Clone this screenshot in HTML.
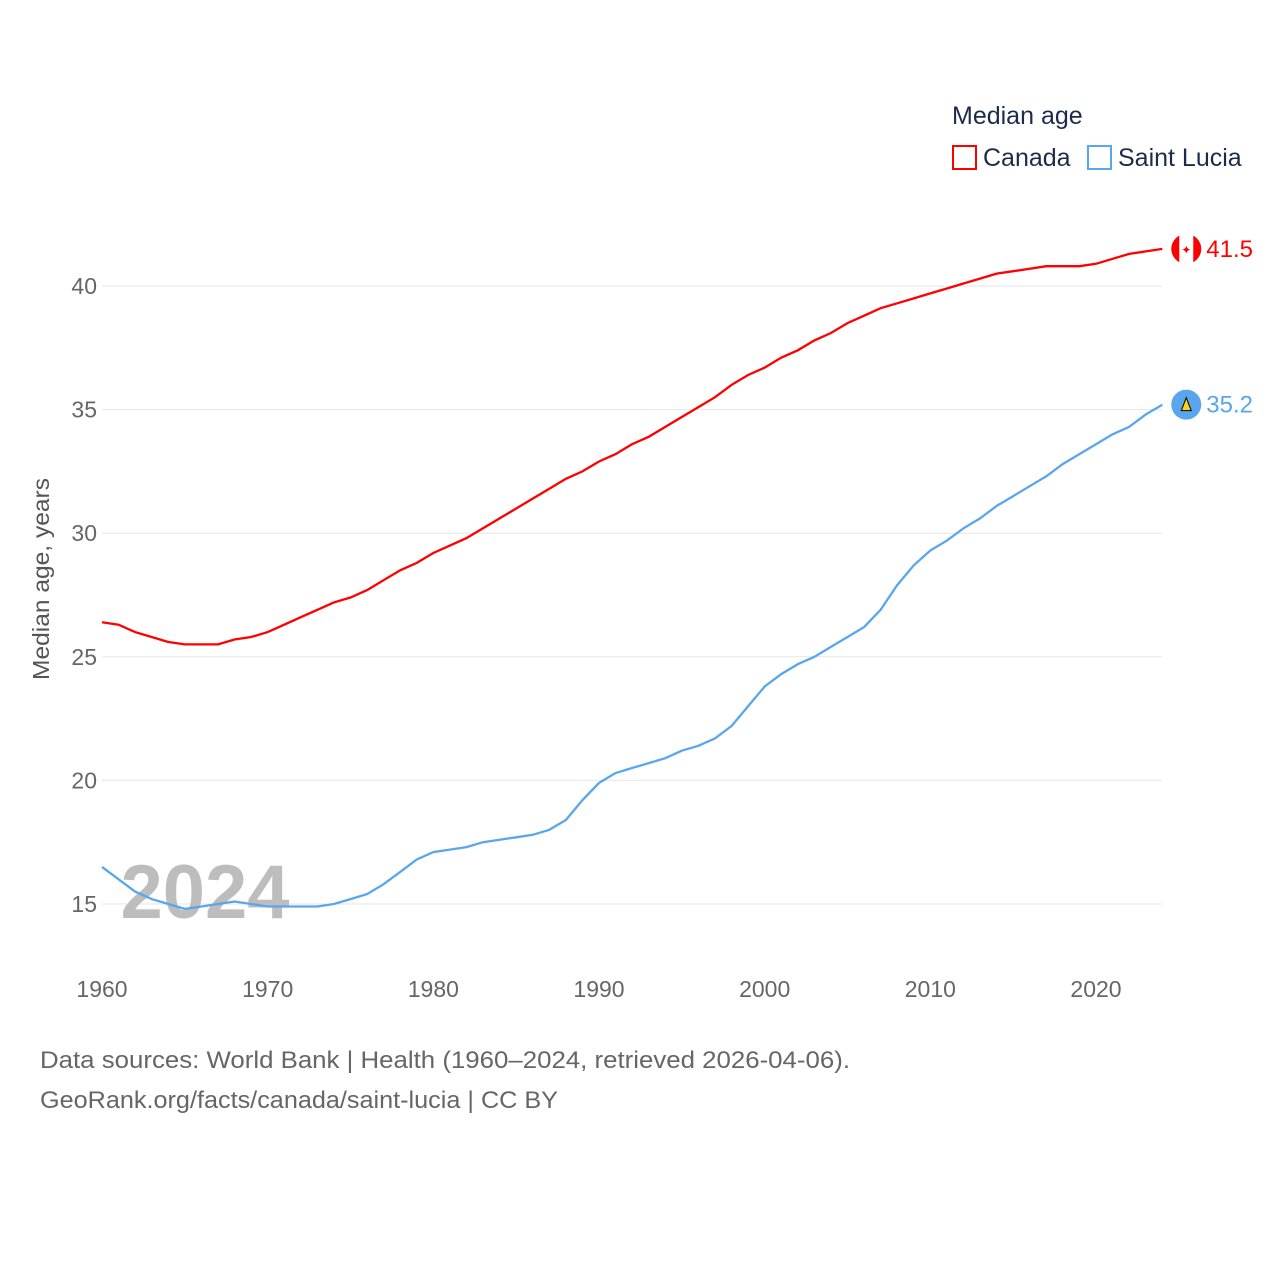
<!DOCTYPE html>
<html><head><meta charset="utf-8"><style>
body{margin:0;background:#fff;font-family:"Liberation Sans",sans-serif}
svg text{font-family:"Liberation Sans",sans-serif}
</style></head><body>
<svg id="chart" width="1280" height="1280" viewBox="0 0 1280 1280">
<text x="952" y="124" font-size="25" fill="#1d2b4a">Median age</text>
<g><rect x="953" y="146" width="23" height="23" fill="none" stroke="#f00" stroke-width="2"/><text x="983" y="166" font-size="25" fill="#1d2b4a">Canada</text></g>
<g><rect x="1088" y="146" width="23" height="23" fill="none" stroke="#5aa6ec" stroke-width="2"/><text x="1118" y="166" font-size="25" fill="#1d2b4a">Saint Lucia</text></g>
<g id="grid"></g><g id="yt"></g><g id="xt"></g>
<text x="205" y="918" font-size="76" font-weight="bold" fill="#bdbdbd" text-anchor="middle">2024</text>
<g id="lines"></g>
<text transform="translate(49,579) rotate(-90)" font-size="23" fill="#555" text-anchor="middle" textLength="202" lengthAdjust="spacingAndGlyphs">Median age, years</text>
<text x="40" y="1068" font-size="24" fill="#666" textLength="810" lengthAdjust="spacingAndGlyphs">Data sources: World Bank | Health (1960–2024, retrieved 2026-04-06).</text>
<text x="40" y="1108" font-size="24" fill="#666" textLength="518" lengthAdjust="spacingAndGlyphs">GeoRank.org/facts/canada/saint-lucia | CC BY</text>
</svg>
<script>
const years=[];for(let y=1960;y<=2024;y++)years.push(y);
const canada=[26.4,26.3,26.0,25.8,25.6,25.5,25.5,25.5,25.7,25.8,26.0,26.3,26.6,26.9,27.2,27.4,27.7,28.1,28.5,28.8,29.2,29.5,29.8,30.2,30.6,31.0,31.4,31.8,32.2,32.5,32.9,33.2,33.6,33.9,34.3,34.7,35.1,35.5,36.0,36.4,36.7,37.1,37.4,37.8,38.1,38.5,38.8,39.1,39.3,39.5,39.7,39.9,40.1,40.3,40.5,40.6,40.7,40.8,40.8,40.8,40.9,41.1,41.3,41.4,41.5];
const saintLucia=[16.5,16.0,15.5,15.2,15.0,14.8,14.9,15.0,15.1,15.0,14.9,14.9,14.9,14.9,15.0,15.2,15.4,15.8,16.3,16.8,17.1,17.2,17.3,17.5,17.6,17.7,17.8,18.0,18.4,19.2,19.9,20.3,20.5,20.7,20.9,21.2,21.4,21.7,22.2,23.0,23.8,24.3,24.7,25.0,25.4,25.8,26.2,26.9,27.9,28.7,29.3,29.7,30.2,30.6,31.1,31.5,31.9,32.3,32.8,33.2,33.6,34.0,34.3,34.8,35.2];
const yTicks=[15,20,25,30,35,40];
const xTicks=[1960,1970,1980,1990,2000,2010,2020];
const NS="http://www.w3.org/2000/svg";
const X=y=>102+(y-1960)*(1096-102)/60;
const Y=v=>904-(v-15)*(904-286)/25;
function mk(t,a,p){const e=document.createElementNS(NS,t);for(const k in a)e.setAttribute(k,a[k]);p.appendChild(e);return e;}
const g=document.getElementById('grid'),yt=document.getElementById('yt'),xt=document.getElementById('xt'),L=document.getElementById('lines');
yTicks.forEach(v=>{
 const l=mk('line',{x1:102,x2:1162,y1:Y(v),y2:Y(v),stroke:'#e6e6e6','stroke-width':1},g);
 
 
 const t=mk('text',{x:97,y:Y(v)+8,'font-size':23,fill:'#666','text-anchor':'end'},yt);t.textContent=v;
 
 
});
xTicks.forEach(v=>{
 const t=mk('text',{x:X(v),y:997,'font-size':23,fill:'#666','text-anchor':'middle'},xt);t.textContent=v;
 
 
});
function series(vals,color,name,label){
 const p=mk('path',{d:vals.map((v,i)=>(i?'L':'M')+X(years[i]).toFixed(1)+','+Y(v).toFixed(1)).join(''),fill:'none',stroke:color,'stroke-width':2.3},L);
 
 
 const last=vals[vals.length-1],cx=X(2024)+24,cy=Y(last);
 const c=mk('circle',{cx:cx,cy:cy,r:15,fill:color},L);
 
 
 if(name==='canada'){mk('rect',{x:cx-7,y:cy-15,width:14,height:30,fill:'#fff'},L);mk('text',{x:cx,y:cy+5,'font-size':12,fill:'#f00','text-anchor':'middle'},L).textContent='✦';}
 else{mk('polygon',{points:`${cx-5},${cy+6} ${cx},${cy-7} ${cx+5},${cy+6}`,fill:'#fcd116',stroke:'#000','stroke-width':1},L);}
 const t=mk('text',{x:cx+20,y:cy+8,'font-size':24,fill:color},L);t.textContent=label(last);
 
 
}
series(canada,'#f00','canada',v=>v.toFixed(1));
series(saintLucia,'#5aa6ec','saint-lucia',v=>v.toFixed(1));
</script>
</body></html>
